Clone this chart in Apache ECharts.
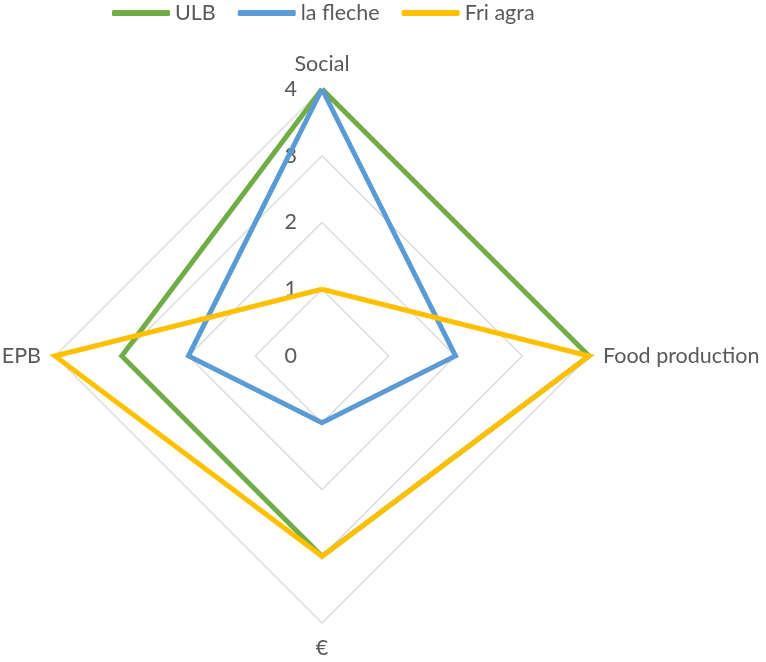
<!DOCTYPE html>
<html>
<head>
<meta charset="utf-8">
<script src="https://cdn.jsdelivr.net/npm/echarts@6/dist/echarts.min.js"></script>
<style>html,body{margin:0;padding:0;background:#fff;}#c{width:766px;height:662px;}</style>
</head>
<body>
<div id="c"></div>
<script>
const categories = ['Social', 'Food production', '€', 'EPB'];
const ulb = [4, 4, 3, 3];
const laFleche = [4, 2, 1, 2];
const friAgra = [1, 4, 3, 4];
const tickValues = [0, 1, 2, 3, 4];
const seriesNames = ['ULB', 'la fleche', 'Fri agra'];

// ECharts radar runs counter-clockwise; Excel runs clockwise -> reorder
const order = [0, 3, 2, 1];
const colors = ['#70AD47', '#5B9BD5', '#FFC000'];
const font = 'Lato, "Open Sans", sans-serif';
const fs = 21.5;
const chart = echarts.init(document.getElementById('c'));
const values = [ulb, laFleche, friAgra];

chart.setOption({
  animation: false,
  color: colors,
  textStyle: { fontFamily: font },
  legend: {
    top: -3,
    left: 107,
    itemWidth: 58,
    itemHeight: 6,
    itemGap: 22,
    icon: 'roundRect',
    textStyle: { color: '#595959', fontSize: fs, fontFamily: font },
    data: seriesNames
  },
  radar: {
    center: [322, 356],
    radius: 267,
    startAngle: 90,
    shape: 'polygon',
    splitNumber: 4,
    indicator: order.map(k => ({ name: categories[k], min: 0, max: tickValues[tickValues.length - 1] })),
    nameGap: 14,
    axisName: { color: '#595959', fontSize: fs, fontFamily: font },
    axisLine: { show: false },
    axisTick: { show: false },
    axisLabel: { show: false },
    splitLine: { lineStyle: { color: '#D9D9D9', width: 1.3 } },
    splitArea: { show: false }
  },
  grid: { left: 322, top: 89, width: 1, height: 267, containLabel: false },
  xAxis: { type: 'value', show: false, min: 0, max: 1 },
  yAxis: {
    type: 'value', min: 0, max: 4, interval: 1,
    axisLine: { show: false }, axisTick: { show: false }, splitLine: { show: false },
    axisLabel: { color: '#595959', fontSize: fs, fontFamily: font, margin: 25 }
  },
  series: [{
    type: 'radar',
    symbol: 'none',
    lineStyle: { width: 5, join: 'miter' },
    data: seriesNames.map((n, i) => ({
      name: n,
      value: order.map(k => values[i][k]),
      lineStyle: { color: colors[i], width: 5, join: 'miter' },
      itemStyle: { color: colors[i] }
    }))
  }]
});
</script>
</body>
</html>
